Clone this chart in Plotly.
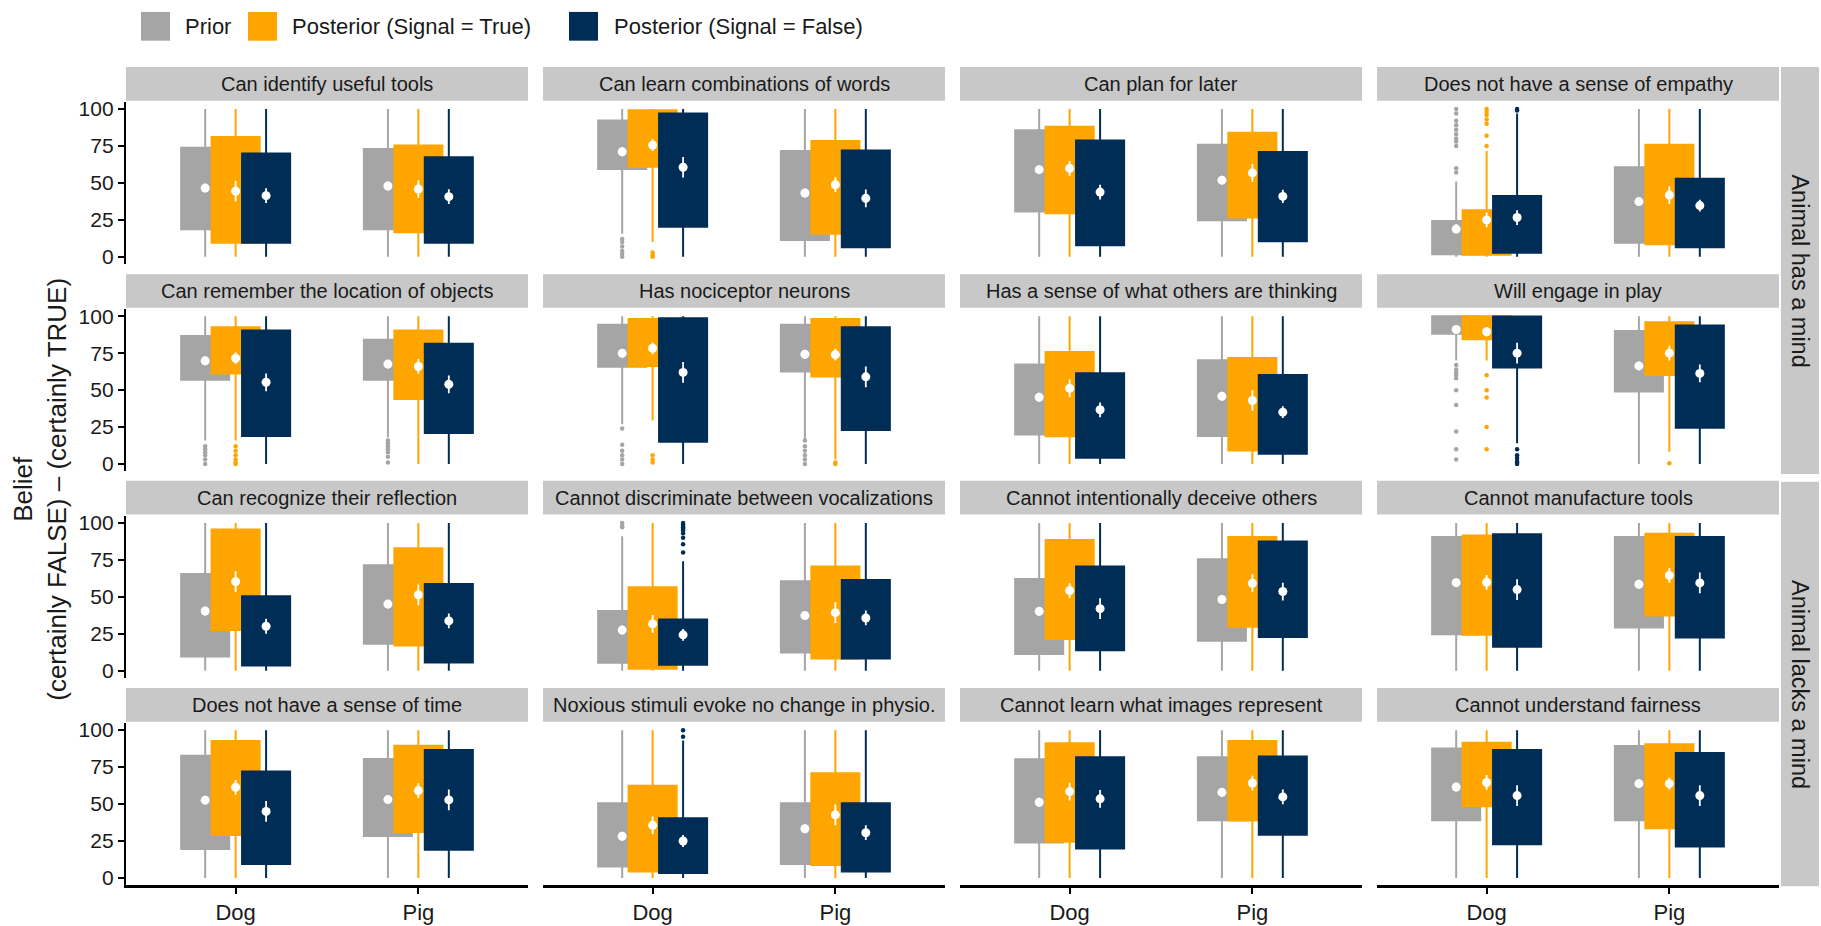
import plotly.graph_objects as go

# ---------------- data ----------------
panels = [
    "Can identify useful tools", "Can learn combinations of words", "Can plan for later",
    "Does not have a sense of empathy",
    "Can remember the location of objects", "Has nociceptor neurons",
    "Has a sense of what others are thinking", "Will engage in play",
    "Can recognize their reflection", "Cannot discriminate between vocalizations",
    "Cannot intentionally deceive others", "Cannot manufacture tools",
    "Does not have a sense of time", "Noxious stimuli evoke no change in physio.",
    "Cannot learn what images represent", "Cannot understand fairness",
]
row_labels = ["Animal has a mind", "Animal lacks a mind"]
animals = ["Dog", "Pig"]
groups = ["Prior", "Posterior (Signal = True)", "Posterior (Signal = False)"]

# each entry: [Dog, Pig]
prior_q1 = [[18.6, 18.6], [59.5, 11.4], [30.6, 24.8], [1.8, 9.6],
            [57.0, 57.0], [65.8, 62.6], [19.9, 19.0], [88.1, 49.0],
            [9.6, 18.3], [5.4, 12.3], [11.4, 20.3], [24.6, 29.2],
            [19.5, 28.4], [7.8, 9.4], [23.9, 39.1], [39.1, 39.1]]
prior_q3 = [[73.8, 72.9], [92.2, 71.6], [85.7, 75.8], [24.2, 60.6],
            [86.6, 84.1], [94.2, 94.2], [67.3, 70.2], [100, 90.0],
            [65.4, 71.4], [40.4, 60.5], [62.0, 75.4], [90.4, 90.4],
            [82.6, 80.5], [50.6, 50.6], [80.3, 81.7], [87.5, 89.3]]
prior_mean = [[46.5, 47.9], [71.1, 43.2], [59.0, 51.9], [18.8, 37.4],
              [69.8, 67.6], [74.9, 74.3], [45.2, 45.9], [91.0, 66.4],
              [40.4, 45.1], [27.5, 37.3], [40.2, 48.2], [59.6, 58.5],
              [52.6, 53.0], [28.2, 33.3], [51.2, 57.9], [61.5, 63.8]]
prior_ci = [[3, 3]] * 16
prior_lo = [[0, 0], [15.7, 0], [0, 0], [0, 0],
            [16, 18], [27, 17], [0, 0], [70, 0],
            [0, 0], [0, 0], [0, 0], [0, 0],
            [0, 0], [0, 0], [0, 0], [0, 0]]
prior_hi = [[100, 100], [100, 100], [100, 100], [51, 100],
            [100, 100], [100, 100], [100, 100], [100, 100],
            [100, 100], [91, 100], [100, 100], [100, 100],
            [100, 100], [100, 100], [100, 100], [100, 100]]

true_q1 = [[9.6, 16.6], [61.0, 15.7], [29.5, 26.6], [1.5, 8.5],
           [61.3, 44.0], [66.4, 59.3], [18.8, 9.2], [84.4, 60.2],
           [27.5, 17.0], [1.3, 8.3], [21.4, 29.7], [24.3, 37.3],
           [29.1, 31.1], [4.3, 8.7], [24.4, 38.9], [48.5, 33.6]]
true_q3 = [[81.0, 75.4], [99.1, 78.3], [88.1, 83.9], [31.5, 75.8],
           [92.6, 90.4], [98.2, 98.2], [75.8, 71.8], [100, 96.0],
           [95.5, 82.8], [56.5, 70.5], [88.4, 90.4], [91.5, 92.6],
           [92.6, 89.5], [62.4, 70.9], [91.1, 92.6], [91.5, 90.4]]
true_mean = [[44.5, 45.9], [75.6, 48.8], [59.9, 56.8], [25.0, 41.8],
             [71.6, 66.0], [78.3, 74.0], [51.2, 43.0], [89.5, 75.0],
             [60.3, 51.3], [31.7, 39.3], [54.2, 59.2], [59.8, 64.5],
             [61.3, 59.1], [35.6, 42.7], [58.4, 64.2], [64.6, 63.8]]
true_ci = [[7, 6], [4, 5], [5, 6], [5, 6],
           [4, 5], [4, 4], [6, 7], [3, 5],
           [7, 7], [6, 7], [5, 6], [5, 5],
           [5, 5], [6, 7], [6, 5], [5, 4]]
true_lo = [[0, 0], [10, 0], [0, 0], [0, 0],
           [16, 0], [29.5, 3], [0, 0], [70, 8.3],
           [0, 0], [0, 0], [0, 0], [0, 0],
           [0, 0], [0, 0], [0, 0], [0, 0]]
true_hi = [[100, 100], [100, 100], [100, 100], [71.6, 100],
           [100, 100], [100, 100], [100, 100], [100, 100],
           [100, 100], [100, 100], [100, 100], [100, 100],
           [100, 100], [100, 100], [100, 100], [100, 100]]

false_q1 = [[9.6, 9.6], [20.4, 6.5], [7.8, 10.5], [2.7, 6.5],
            [19.0, 21.0], [15.0, 23.0], [4.3, 7.0], [65.3, 24.6],
            [3.6, 5.6], [4.0, 8.3], [13.8, 22.8], [16.3, 22.5],
            [9.4, 19.0], [3.4, 4.3], [19.9, 29.3], [22.8, 21.3]]
false_q3 = [[70.0, 67.3], [97.0, 72.0], [78.7, 70.9], [41.1, 52.8],
            [90.4, 81.4], [98.7, 92.6], [61.5, 60.2], [99.8, 93.8],
            [50.4, 58.7], [34.6, 61.4], [70.5, 87.5], [92.4, 90.4],
            [72.0, 86.6], [40.3, 50.6], [81.7, 82.1], [86.6, 84.6]]
false_mean = [[41.4, 40.7], [60.6, 39.6], [43.8, 40.9], [26.6, 34.7],
              [55.3, 53.9], [62.0, 59.0], [36.7, 35.1], [75.0, 61.3],
              [30.1, 33.7], [24.3, 35.7], [42.0, 53.6], [54.9, 59.4],
              [45.0, 52.8], [25.0, 30.6], [53.5, 54.8], [55.7, 55.7]]
false_ci = [[5, 5], [7, 6], [5, 4.5], [5, 4],
            [6, 6], [7, 7], [5, 4], [7, 6],
            [5, 5], [4, 5], [7, 6], [7, 7],
            [7, 7], [4, 5], [6, 5], [7, 7]]
false_lo = [[0, 0], [0, 0], [0, 0], [0, 0],
            [0, 0], [0, 0], [0, 0], [14, 0],
            [0, 0], [0, 0], [0, 0], [0, 0],
            [0, 0], [0, 0], [0, 0], [0, 0]]
false_hi = [[100, 100], [100, 100], [100, 100], [97, 100],
            [100, 100], [100, 100], [100, 100], [100, 100],
            [100, 100], [74, 100], [100, 100], [100, 100],
            [100, 100], [93, 100], [100, 100], [100, 100]]

# outliers: (panel, animal index, group index, values)
outliers = [
    (1, 0, 0, [0, 2, 4, 7, 10, 12]),
    (3, 0, 0, [57, 60, 75, 78, 80, 83, 86, 89, 92, 97, 100]),
    (4, 0, 0, [0, 3, 6, 8, 10, 12]),
    (4, 1, 0, [1, 5, 8, 10, 12, 14, 16]),
    (5, 0, 0, [0, 3, 6, 9, 13, 24]),
    (5, 1, 0, [0, 3, 6, 9, 12, 16]),
    (7, 0, 0, [3, 10, 22, 40, 50, 58, 60, 62, 64, 67]),
    (9, 0, 0, [97, 98, 100]),
    (1, 0, 1, [0, 1, 3]),
    (3, 0, 1, [75, 82, 90, 93, 96, 98, 100]),
    (4, 0, 1, [0, 1, 3, 6, 9, 12]),
    (5, 0, 1, [1, 3, 6]),
    (5, 1, 1, [0, 1]),
    (7, 0, 1, [10, 25, 45, 50, 60]),
    (7, 1, 1, [0.5]),
    (3, 0, 2, [99, 100]),
    (7, 0, 2, [0, 1, 2, 4, 6, 10]),
    (9, 0, 2, [80, 85.5, 90, 93, 95, 96, 97, 98, 99, 100]),
    (13, 0, 2, [95.5, 100]),
]

# ---------------- styling / layout ----------------
W, H = 1821, 926
colors = ["#A5A5A5", "#FFA500", "#002D56"]
strip_fill = "#C8C8C8"
text_col = "#1A1A1A"
offsets = [-1 / 6, 0.0, 1 / 6]
box_w = 0.263

stats = [
    (prior_q1, prior_q3, prior_mean, prior_ci, prior_lo, prior_hi),
    (true_q1, true_q3, true_mean, true_ci, true_lo, true_hi),
    (false_q1, false_q3, false_mean, false_ci, false_lo, false_hi),
]

col_left = [126 + c * 417 for c in range(4)]
panel_w = 402
row_top = [98.5, 307.5, 516, 725]
panel_h = 164


def fx(px):
    return px / W


def fy(py):
    return 1 - py / H


fig = go.Figure()
layout = dict(
    width=W, height=H, autosize=False,
    margin=dict(l=0, r=0, t=0, b=0),
    paper_bgcolor="white", plot_bgcolor="white",
    showlegend=False, boxmode="overlay",
    font=dict(family="Liberation Sans, Arial, sans-serif", color=text_col),
)
shapes, annotations = [], []

for i, title in enumerate(panels):
    r, c = divmod(i, 4)
    n = "" if i == 0 else str(i + 1)
    xa, ya = "x" + n, "y" + n
    x0, x1 = col_left[c], col_left[c] + panel_w
    y0, y1 = row_top[r], row_top[r] + panel_h

    xax = dict(domain=[fx(x0), fx(x1)], range=[0.4, 2.6], anchor=ya,
               showgrid=False, zeroline=False, tickvals=[1, 2], ticktext=animals,
               fixedrange=True)
    if r == 3:
        xax.update(showline=True, linecolor="black", linewidth=2.2, ticks="outside",
                   ticklen=6, tickwidth=2, tickcolor="black",
                   tickfont=dict(size=22, color=text_col))
    else:
        xax.update(showline=False, ticks="", showticklabels=False)
    yax = dict(domain=[fy(y1), fy(y0)], range=[-5, 105], anchor=xa,
               showgrid=False, zeroline=False, tickvals=[0, 25, 50, 75, 100],
               fixedrange=True)
    if c == 0:
        yax.update(showline=True, linecolor="black", linewidth=2.2, ticks="outside",
                   ticklen=6, tickwidth=2, tickcolor="black",
                   tickfont=dict(size=21, color=text_col))
    else:
        yax.update(showline=False, ticks="", showticklabels=False)
    layout["xaxis" + n] = xax
    layout["yaxis" + n] = yax

    # strip
    shapes.append(dict(type="rect", xref="paper", yref="paper",
                       x0=fx(x0), x1=fx(x1), y0=fy(y0 - 1), y1=fy(y0 - 35),
                       fillcolor=strip_fill, line=dict(width=0), layer="below"))
    annotations.append(dict(text=title, xref="paper", yref="paper",
                            x=fx((x0 + x1) / 2), y=fy(y0 - 18), showarrow=False,
                            xanchor="center", yanchor="middle",
                            font=dict(size=20, color=text_col)))

    # boxes
    for g in range(3):
        q1, q3, mean, ci, lo, hi = stats[g]
        xs = [k + 1 + offsets[g] for k in range(2)]
        fig.add_trace(go.Box(
            x=xs, q1=q1[i], median=mean[i], q3=q3[i],
            lowerfence=lo[i], upperfence=hi[i],
            width=box_w, whiskerwidth=0, boxpoints=False,
            fillcolor=colors[g], line=dict(color=colors[g], width=2),
            xaxis=xa, yaxis=ya, hoverinfo="skip", name=groups[g]))

    # outliers
    for (p, a, g, vals) in outliers:
        if p != i:
            continue
        fig.add_trace(go.Scatter(
            x=[a + 1 + offsets[g]] * len(vals), y=vals, mode="markers",
            marker=dict(color=colors[g], size=4.5, line=dict(width=0)),
            xaxis=xa, yaxis=ya, hoverinfo="skip"))

    # means with CI
    for g in range(3):
        q1, q3, mean, ci, lo, hi = stats[g]
        fig.add_trace(go.Scatter(
            x=[k + 1 + offsets[g] for k in range(2)], y=mean[i], mode="markers",
            marker=dict(color="white", size=9, line=dict(width=0)),
            error_y=dict(type="data", array=ci[i], visible=True, color="white",
                         thickness=1.8, width=0),
            xaxis=xa, yaxis=ya, hoverinfo="skip"))

# row strips on the right
for k, (ya0, ya1) in enumerate([(63.5, 474), (482, 890)]):
    shapes.append(dict(type="rect", xref="paper", yref="paper",
                       x0=fx(1781), x1=fx(1819), y0=fy(ya1), y1=fy(ya0),
                       fillcolor=strip_fill, line=dict(width=0), layer="below"))
    annotations.append(dict(text=row_labels[k], xref="paper", yref="paper",
                            x=fx(1800), y=fy((ya0 + ya1) / 2), showarrow=False,
                            textangle=90, xanchor="center", yanchor="middle",
                            font=dict(size=23.5, color=text_col)))

# y-axis title
annotations.append(dict(text="Belief<br>(certainly FALSE) \u2013 (certainly TRUE)",
                        xref="paper", yref="paper", x=fx(40), y=fy(490),
                        showarrow=False, textangle=-90, xanchor="center",
                        yanchor="middle", font=dict(size=26, color=text_col)))

# legend (custom)
leg_items = [(141, 183), (248, 290), (569, 612)]
for g, (sx, tx) in enumerate(leg_items):
    shapes.append(dict(type="rect", xref="paper", yref="paper",
                       x0=fx(sx), x1=fx(sx + 29), y0=fy(37), y1=fy(8),
                       fillcolor=colors[g], line=dict(width=0)))
    annotations.append(dict(text=groups[g], xref="paper", yref="paper",
                            x=fx(tx), y=fy(22.5), showarrow=False,
                            xanchor="left", yanchor="middle",
                            font=dict(size=22, color=text_col)))

layout["shapes"] = shapes
layout["annotations"] = annotations
fig.update_layout(**layout)

fig.write_html("out.html", config={"staticPlot": True},
               post_script="document.body.style.margin='0';document.body.style.overflow='hidden';")
